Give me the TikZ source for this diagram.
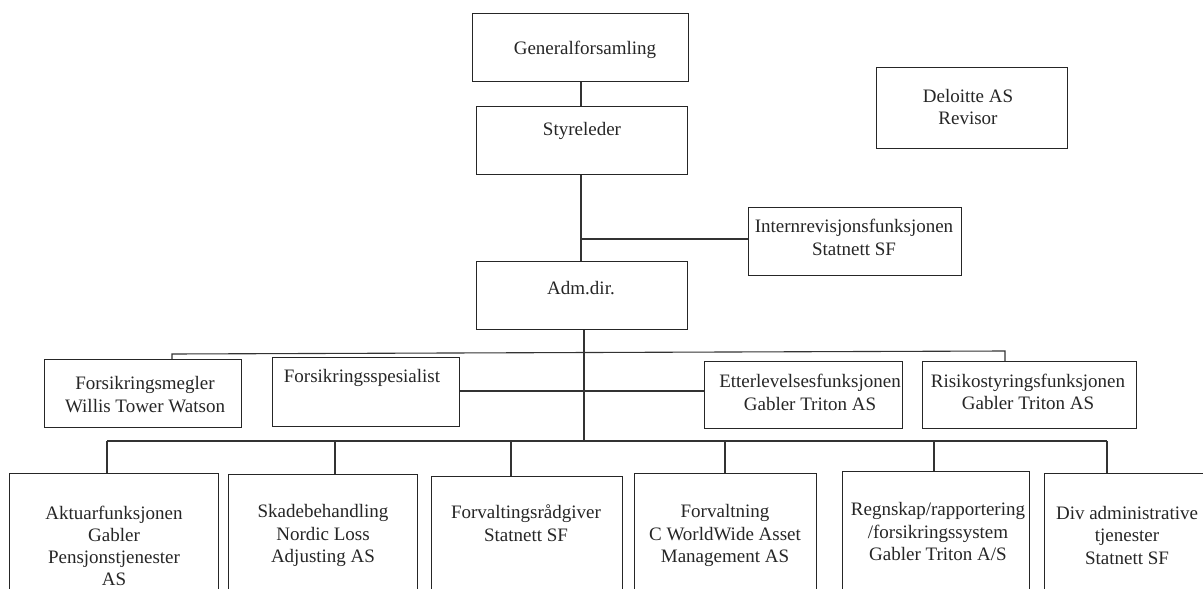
\documentclass[tikz,border=0pt]{standalone}
\usepackage{fontspec}
\setmainfont{Liberation Serif}
\usetikzlibrary{calc}
\begin{document}
\begin{tikzpicture}[x=1pt,y=-1pt,
  box/.style={draw=black!85, line width=1.3pt, rectangle, inner sep=0pt, anchor=north west},
  txt/.style={font=\fontsize{19}{22.5}\selectfont, align=center, text=black!85, inner sep=0pt},
  con/.style={draw=black!80, line width=1.1pt}]
\useasboundingbox[fill=white] (0,0) rectangle (1203,589);

% boxes
\node[box, minimum width=216pt, minimum height=68pt] (gen) at (472,13) {};
\node[box, minimum width=211pt, minimum height=68pt] (sty) at (476,106) {};
\node[box, minimum width=211pt, minimum height=68pt] (adm) at (476,261) {};
\node[box, minimum width=191pt, minimum height=81pt] (del) at (876,67) {};
\node[box, minimum width=213pt, minimum height=68pt] (int) at (748,207) {};
\node[box, minimum width=197pt, minimum height=68pt] (meg) at (44,359) {};
\node[box, minimum width=187pt, minimum height=69pt] (spe) at (272,357) {};
\node[box, minimum width=198pt, minimum height=67pt] (ett) at (704,361) {};
\node[box, minimum width=214pt, minimum height=67pt] (ris) at (922,361) {};
\node[box, minimum width=209pt, minimum height=160pt] (akt) at (9,473) {};
\node[box, minimum width=189pt, minimum height=160pt] (ska) at (228,474) {};
\node[box, minimum width=191pt, minimum height=160pt] (frg) at (431,476) {};
\node[box, minimum width=182pt, minimum height=160pt] (frv) at (634,473) {};
\node[box, minimum width=187pt, minimum height=160pt] (reg) at (842,471) {};
\node[box, minimum width=166pt, minimum height=160pt] (div) at (1044,473) {};

% texts
\node[txt] (gen-t) at (585,50) {Generalforsamling};
\node[txt] (sty-t) at (582,131) {Styreleder};
\node[txt] (adm-t) at (581,288) {Adm.dir.};
\node[txt] (del-t) at (968,107) {Deloitte AS\\Revisor};
\node[txt] (int-t) at (854,237.5) {Internrevisjonsfunksjonen\\Statnett SF};
\node[txt] (meg-t) at (145,394.5) {Forsikringsmegler\\Willis Tower Watson};
\node[txt] (spe-t) at (362,378) {Forsikringsspesialist};
\node[txt] (ett-t) at (810,392.5) {Etterlevelsesfunksjonen\\Gabler Triton AS};
\node[txt] (ris-t) at (1028,392) {Risikostyringsfunksjonen\\Gabler Triton AS};
\node[txt, font=\fontsize{19}{22}\selectfont] (akt-t) at (114,546) {Aktuarfunksjonen\\Gabler\\Pensjonstjenester\\AS};
\node[txt] (ska-t) at (323,535.5) {Skadebehandling\\Nordic Loss\\Adjusting AS};
\node[txt] (frg-t) at (526,523) {Forvaltingsrådgiver\\Statnett SF};
\node[txt] (frv-t) at (725,535.5) {Forvaltning\\C WorldWide Asset\\Management AS};
\node[txt] (reg-t) at (938,531.5) {Regnskap/rapportering\\/forsikringssystem\\Gabler Triton A/S};
\node[txt] (div-t) at (1127,535) {Div administrative\\tjenester\\Statnett SF};

% connectors
\coordinate (trunk) at (581,0);
\coordinate (jI) at (581,239);
\coordinate (tbL) at (172,354);
\coordinate (tbR) at (1005,351);
\coordinate (sub) at (584,0);
\coordinate (bL) at (107,441);
\coordinate (bR) at (1107,441);
\coordinate (d2) at (335,441);
\coordinate (d3) at (511,441);
\coordinate (d4) at (725,441);
\coordinate (d5) at (934,441);

\draw[con] (trunk |- gen.south) -- (trunk |- sty.north);
\draw[con] (trunk |- sty.south) -- (trunk |- adm.north);
\draw[con] (jI) -- (int.west |- jI);
\draw[con] (sub |- adm.south) -- (sub |- bL);
\draw[con] (tbL |- meg.north) -- (tbL) -- (tbR) -- (tbR |- ris.north);
\draw[con] (spe.east |- 0,391) -- (ett.west |- 0,391);
\draw[con] (bL) -- (bR);
\draw[con] (bL) -- (bL |- akt.north);
\draw[con] (d2) -- (d2 |- ska.north);
\draw[con] (d3) -- (d3 |- frg.north);
\draw[con] (d4) -- (d4 |- frv.north);
\draw[con] (d5) -- (d5 |- reg.north);
\draw[con] (bR) -- (bR |- div.north);
\end{tikzpicture}
\end{document}
